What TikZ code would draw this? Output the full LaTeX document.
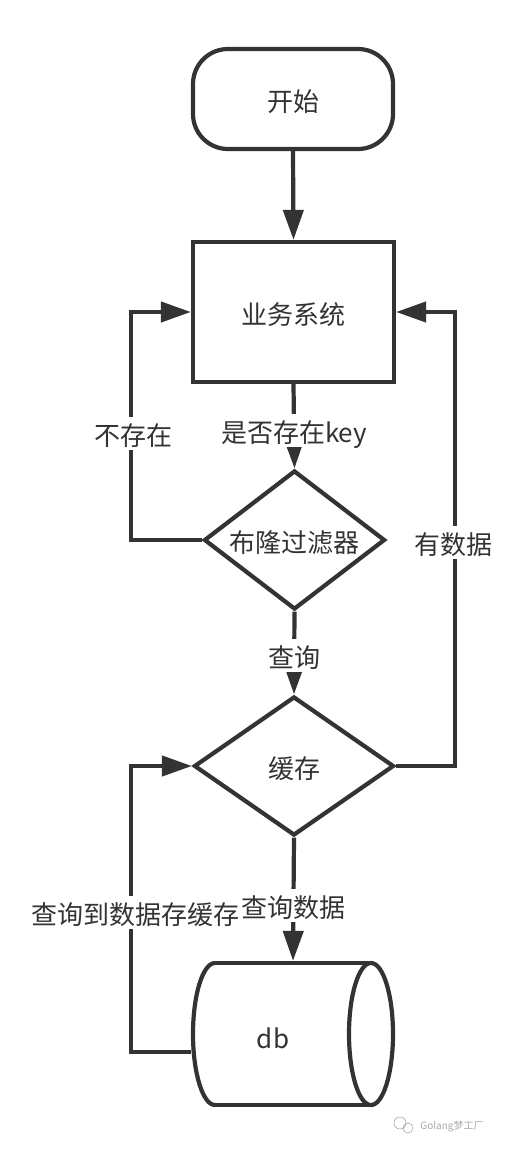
\documentclass[tikz,border=0pt]{standalone}
\usepackage{fontspec}
\setmainfont{Noto Sans CJK SC}
\usetikzlibrary{shapes.geometric,arrows.meta}
\definecolor{ink}{HTML}{333333}
\definecolor{wm}{HTML}{A8A8A8}
\begin{document}
\begin{tikzpicture}[x=1pt,y=-1pt,
  color=ink, line width=4.2pt,
  every node/.style={font=\fontsize{26}{31}\selectfont, text height=28pt, text depth=3pt},
  box/.style={draw, rectangle, minimum width=201pt, minimum height=140pt, inner sep=0pt},
  term/.style={draw, rectangle, rounded corners=35pt, minimum width=200pt, minimum height=100pt, inner sep=0pt},
  decision/.style={draw, diamond, inner sep=0pt},
  conn/.style={-{Triangle[length=30pt,width=20pt]}},
  lbl/.style={fill=white, inner sep=1pt},
]
\useasboundingbox (0,0) rectangle (523,1154);

% nodes
\node[term] (start) at (293,99) {开始};
\node[box] (sys) at (293.5,312) {业务系统};
\node[decision, minimum width=181pt, minimum height=139pt, aspect=1.3] (bloom) at (294.5,540) {布隆过滤器};
\node[decision, minimum width=200pt, minimum height=139pt, aspect=1.44] (cache) at (294,766) {缓存};
\node[minimum width=200pt, minimum height=142pt, inner sep=0pt] (db) at (293,1034) {};

% cylinder drawing for db
\draw (215,963) -- (371,963);
\draw (215,1105) -- (371,1105);
\draw (215,963) arc[start angle=-90, end angle=-270, x radius=22, y radius=71];
\draw (371,1034) ellipse [x radius=22, y radius=71];
\node (dbtext) at (273,1036) {db};

% connectors
\draw[conn] (start.south) -- (sys.north);
\draw[conn] (sys.south) -- node[lbl, pos=0.55] (l1) {是否存在key} (bloom.north);
\draw[conn] (bloom.west) -- ++(-71,0) |- (sys.west);
\node[lbl] (l2) at (133,433) {不存在};
\draw[conn] (cache.east) -- ++(59,0) |- (sys.east);
\node[lbl] (l3) at (453,542) {有数据};
\draw[conn] (bloom.south) -- node[lbl, pos=0.53] (l4) {查询} (cache.north);
\draw[conn] (cache.south) -- node[lbl, pos=0.55] (l5) {查询数据} (db.north);
\draw[conn] ([yshift=-18pt]db.west) -- ++(-60,0) |- (cache.west);
\node[lbl] (l6) at (135,912) {查询到数据存缓存};

% watermark
\draw[wm, line width=0.6pt] (400,1123) circle[radius=6];
\draw[wm, line width=0.6pt] (408,1128) circle[radius=5];
\node[text=wm, font=\fontsize{10}{12}\selectfont, text height=8pt, text depth=2pt] (wmtext) at (452,1126) {Golang梦工厂};
\end{tikzpicture}
\end{document}
